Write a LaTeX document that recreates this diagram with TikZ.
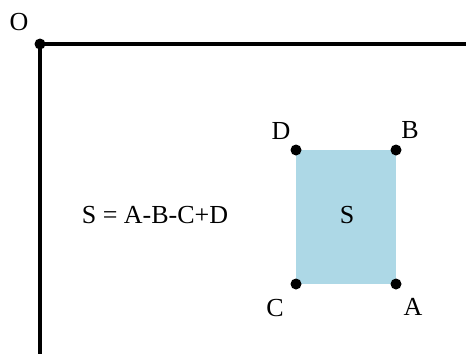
\documentclass[tikz,border=0pt]{standalone}
\usepackage{fontspec}
\setmainfont{Liberation Serif}
\usetikzlibrary{positioning}
\definecolor{areablue}{RGB}{173,216,230}
\tikzset{corner/.style={circle,fill=black,inner sep=0pt,minimum size=11pt},
  axis/.style={line width=3.5pt}}

\begin{document}
\begin{tikzpicture}[x=1pt,y=-1pt,font=\fontsize{26}{30}\selectfont]
  \useasboundingbox (0,0) rectangle (466,354);
  % origin and the two borders
  \node[corner] (O) at (40,44) {};
  \node (Olbl) at (19,22) {O};
  \coordinate (xend) at (466,44);
  \coordinate (yend) at (40,354);
  \draw[axis] (xend) -- (O.center) -- (yend);
  % shaded area with its four corners
  \coordinate (Dc) at (296,150);
  \coordinate (Ac) at (396,284);
  \fill[areablue] (Dc) rectangle (Ac);
  \node[corner] (D) at (Dc) {};
  \node[corner] (B) at (396,150) {};
  \node[corner] (C) at (296,284) {};
  \node[corner] (A) at (Ac) {};
  \node (Dlbl) at (281,131) {D};
  \node (Blbl) at (410,130) {B};
  \node (Clbl) at (275,308) {C};
  \node (Albl) at (413,307) {A};
  \node (S) at (347,215) {S};
  % formula
  \node (rule) at (155,215) {S = A-B-C+D};
\end{tikzpicture}
\end{document}
